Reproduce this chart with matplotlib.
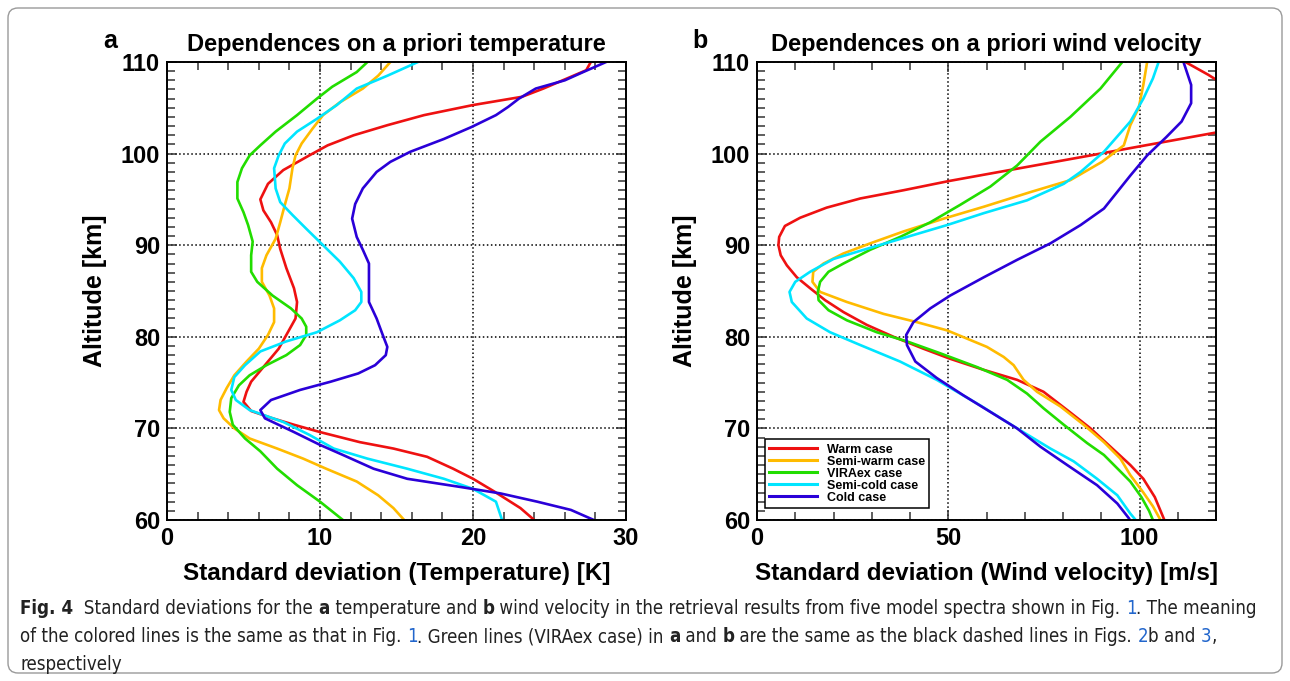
import matplotlib
matplotlib.use("Agg")
import matplotlib.pyplot as plt
from matplotlib.ticker import MultipleLocator
from matplotlib.patches import FancyBboxPatch
from matplotlib.transforms import IdentityTransform
from matplotlib import font_manager

W, H = 1290, 681
plt.rcParams['font.family'] = ['Liberation Sans', 'DejaVu Sans']

case_names = ['Warm case', 'Semi-warm case', 'VIRAex case', 'Semi-cold case', 'Cold case']
case_colors = ['#ee1111', '#ffbb00', '#22dd00', '#00e5ff', '#2a00d8']

# --- (a) standard deviation of temperature [K] vs altitude [km]
temp_warm_sd = [27.7, 27.4, 24.6, 23.2, 20.0, 16.8, 14.4, 12.2, 10.5, 9.3, 7.6, 6.6, 6.1, 6.3, 6.8,
                7.2, 7.4, 7.8, 8.3, 8.5, 8.4, 7.8, 7.3, 6.4, 5.5, 5.2, 5.0, 5.5, 6.9, 8.3, 10.0,
                12.6, 14.8, 17.0, 18.7, 20.0, 21.4, 23.1, 24.0]
temp_warm_alt = [110, 109.1, 107.1, 106.2, 105.3, 104.2, 103.1, 102.0, 100.9, 99.8, 98.2, 96.7, 95.0,
                 93.8, 92.5, 91.1, 89.6, 87.5, 85.3, 83.8, 82.0, 80.2, 78.7, 76.9, 75.1, 74.0, 72.9,
                 71.9, 71.1, 70.4, 69.6, 68.5, 67.8, 66.9, 65.6, 64.5, 63.1, 61.3, 60.0]

temp_semiwarm_sd = [14.6, 13.8, 12.8, 11.3, 10.2, 9.5, 8.8, 8.4, 8.2, 8.0, 7.7, 7.4, 7.1, 6.5, 6.2,
                    6.2, 6.7, 7.0, 7.0, 6.6, 6.0, 5.2, 4.4, 3.9, 3.5, 3.4, 3.7, 4.4, 5.4, 7.2, 8.9,
                    10.4, 12.4, 13.8, 14.8, 15.5]
temp_semiwarm_alt = [110, 108.5, 107.1, 105.6, 104.2, 102.7, 101.1, 99.8, 98.4, 96.2, 94.4, 92.5, 90.7,
                     88.9, 87.5, 86.0, 84.5, 83.1, 81.6, 80.2, 78.7, 77.3, 75.8, 74.4, 73.1, 72.0,
                     71.1, 70.0, 68.9, 67.8, 66.7, 65.6, 64.2, 62.7, 61.3, 60.0]

temp_viraex_sd = [13.1, 12.4, 10.8, 9.8, 8.5, 7.1, 6.1, 5.4, 4.9, 4.6, 4.6, 5.0, 5.3, 5.6, 5.5, 5.5,
                  5.9, 6.9, 8.1, 8.8, 9.1, 9.1, 8.7, 7.8, 6.5, 5.4, 4.7, 4.2, 4.1, 4.3, 5.1, 6.1,
                  7.2, 8.5, 10.0, 11.5]
temp_viraex_alt = [110, 108.9, 107.3, 106.0, 104.2, 102.4, 100.9, 99.8, 98.4, 96.9, 95.1, 93.6, 92.2,
                   90.4, 88.9, 87.1, 86.0, 84.5, 83.1, 82.0, 81.1, 80.2, 79.1, 78.0, 76.9, 75.8,
                   74.7, 73.3, 71.8, 70.4, 68.9, 67.5, 65.6, 63.8, 62.0, 60.0]

temp_semicold_sd = [16.4, 14.4, 12.4, 11.1, 9.8, 8.5, 7.7, 7.3, 7.0, 7.1, 7.4, 8.2, 9.1, 10.2, 11.3,
                    12.2, 12.7, 12.7, 12.3, 11.3, 9.8, 7.8, 6.1, 5.1, 4.4, 4.2, 4.5, 5.4, 7.6, 9.3,
                    10.9, 13.1, 15.7, 18.1, 20.0, 21.5, 21.9]
temp_semicold_alt = [110, 108.5, 107.1, 105.3, 103.8, 102.4, 101.1, 99.8, 98.4, 96.2, 94.7, 93.3, 91.8,
                     90.0, 88.2, 86.4, 84.9, 83.8, 82.9, 81.8, 80.5, 79.5, 78.4, 76.9, 75.6, 74.2,
                     73.1, 72.0, 70.7, 69.3, 67.8, 66.7, 65.6, 64.5, 63.4, 62.0, 60.0]

temp_cold_sd = [28.7, 27.2, 26.0, 24.1, 23.0, 22.3, 21.5, 19.9, 18.1, 15.9, 14.6, 13.7, 12.8, 12.3,
                12.1, 12.4, 12.8, 13.2, 13.2, 13.2, 13.7, 14.1, 14.4, 14.3, 13.6, 12.5, 10.7, 8.7,
                6.8, 6.1, 6.4, 8.3, 10.0, 11.5, 13.5, 15.7, 19.2, 21.8, 24.2, 26.4, 27.9]
temp_cold_alt = [110, 108.9, 108.0, 107.1, 106.0, 105.1, 104.2, 102.9, 101.6, 100.2, 99.1, 98.0, 96.2,
                 94.5, 92.9, 90.9, 89.5, 88.0, 86.0, 83.8, 82.0, 80.2, 78.9, 78.0, 76.9, 76.0, 75.1,
                 74.2, 73.1, 72.0, 71.1, 69.6, 68.2, 67.1, 65.6, 64.5, 63.6, 62.9, 62.0, 61.1, 60.0]

# --- (b) standard deviation of wind velocity [m/s] vs altitude [km]
wind_warm_sd = [112, 118, 126, 131, 126, 120, 97.6, 92.4, 87.2, 50.1, 38.3, 27.0, 18.2, 11.3, 7.3, 5.8,
                5.6, 6.2, 7.8, 10.4, 13.9, 17.8, 22.6, 28.7, 35.7, 43.5, 50.5, 59.2, 68.0, 74.9,
                81.1, 87.2, 92.4, 97.6, 101.0, 104.0, 106.5]
wind_warm_alt = [110, 108.6, 106.5, 105.0, 103.2, 102.3, 100.6, 100.2, 99.8, 97.0, 96.0, 95.1, 94.1,
                 93.0, 92.1, 90.9, 90.0, 88.9, 87.8, 86.5, 85.3, 84.0, 82.7, 81.3, 80.0, 78.7, 77.6,
                 76.4, 75.3, 74.0, 72.0, 70.0, 68.0, 66.0, 64.5, 62.5, 60.0]

wind_semiwarm_sd = [102.0, 101.0, 99.8, 97.6, 95.9, 90.2, 81.9, 71.5, 59.3, 48.8, 38.3, 29.6, 22.6,
                    17.4, 14.7, 14.5, 16.5, 23.5, 33.1, 41.8, 49.7, 54.9, 60.1, 64.5, 67.1, 69.7,
                    73.2, 79.3, 85.4, 90.7, 95.0, 97.6, 101.0, 103.5, 105.5]
wind_semiwarm_alt = [110, 107.5, 105.0, 103.1, 100.9, 99.1, 97.1, 95.8, 94.2, 92.9, 91.5, 90.2, 89.1,
                     88.0, 87.1, 86.0, 84.9, 83.8, 82.5, 81.6, 80.7, 79.8, 78.9, 77.8, 76.9, 75.3,
                     74.0, 72.4, 70.4, 68.5, 66.7, 64.9, 63.0, 61.5, 60.0]

wind_viraex_sd = [95.5, 89.8, 81.9, 74.1, 68.0, 61.0, 53.1, 45.3, 37.4, 29.6, 22.6, 18.7, 16.5, 15.9,
                  16.1, 18.7, 23.5, 31.3, 39.2, 47.9, 57.5, 65.4, 70.6, 74.9, 80.2, 86.3, 90.7,
                  95.0, 97.6, 100.5, 102.5, 103.5]
wind_viraex_alt = [110, 107.1, 104.0, 101.3, 98.7, 96.4, 94.4, 92.5, 90.9, 89.5, 88.0, 87.1, 86.0,
                   84.9, 84.0, 82.9, 81.8, 80.5, 79.5, 78.2, 76.7, 75.3, 73.8, 72.2, 70.4, 68.4,
                   67.1, 65.3, 64.2, 62.5, 61.0, 60.0]

wind_semicold_sd = [105.0, 103.5, 101.0, 97.6, 90.7, 84.6, 80.2, 70.6, 59.3, 49.7, 39.2, 28.7, 20.0,
                    13.9, 10.0, 8.5, 9.1, 13.0, 19.1, 27.0, 37.4, 47.0, 58.4, 68.0, 76.7, 82.8,
                    88.9, 94.2, 97.6, 99.0]
wind_semicold_alt = [110, 108.2, 106.0, 103.5, 100.2, 98.0, 96.7, 94.9, 93.5, 92.2, 90.9, 89.6, 88.5,
                     87.1, 86.0, 84.9, 83.8, 82.0, 80.5, 79.1, 77.3, 75.3, 72.5, 70.0, 67.8, 66.4,
                     64.5, 62.7, 60.7, 60.0]

wind_cold_sd = [111.5, 113.5, 113.5, 111.0, 107.0, 102.0, 97.6, 90.7, 84.6, 76.7, 68.0, 59.3, 50.5,
                45.3, 40.9, 39.0, 39.2, 41.4, 47.0, 54.0, 61.0, 68.0, 74.1, 81.1, 88.9, 94.2,
                97.2, 97.5]
wind_cold_alt = [110, 107.5, 105.5, 103.5, 101.8, 99.8, 97.6, 94.0, 92.2, 90.2, 88.4, 86.5, 84.5,
                 83.1, 81.6, 80.2, 79.1, 77.3, 75.5, 73.6, 71.8, 70.0, 68.0, 66.0, 63.8, 61.8,
                 60.2, 60.0]

temp_series = [(temp_warm_sd, temp_warm_alt), (temp_semiwarm_sd, temp_semiwarm_alt),
               (temp_viraex_sd, temp_viraex_alt), (temp_semicold_sd, temp_semicold_alt),
               (temp_cold_sd, temp_cold_alt)]
wind_series = [(wind_warm_sd, wind_warm_alt), (wind_semiwarm_sd, wind_semiwarm_alt),
               (wind_viraex_sd, wind_viraex_alt), (wind_semicold_sd, wind_semicold_alt),
               (wind_cold_sd, wind_cold_alt)]

fig = plt.figure(figsize=(W / 100, H / 100), dpi=100)
ax_a = fig.add_axes([167 / W, 1 - 520 / H, 459 / W, 458 / H])
ax_b = fig.add_axes([757 / W, 1 - 520 / H, 459 / W, 458 / H])


def style_axis(ax, xmax, xmajor, xminor, xlabel, title, letter):
    ax.set_xlim(0, xmax)
    ax.set_ylim(60, 110)
    ax.xaxis.set_major_locator(MultipleLocator(xmajor))
    ax.xaxis.set_minor_locator(MultipleLocator(xminor))
    ax.yaxis.set_major_locator(MultipleLocator(10))
    ax.yaxis.set_minor_locator(MultipleLocator(1))
    ax.tick_params(which='both', direction='in', top=True, right=True, width=1.1, color='#333333')
    ax.tick_params(which='major', length=7, pad=5, labelsize=17)
    ax.tick_params(which='minor', length=6)
    for lab in ax.get_xticklabels() + ax.get_yticklabels():
        lab.set_fontweight('bold')
    for sp in ax.spines.values():
        sp.set_linewidth(1.4)
    ax.grid(which='major', linestyle=':', color='black', linewidth=1.1)
    ax.set_xlabel(xlabel, fontsize=17.5, fontweight='bold', labelpad=9)
    ax.set_ylabel('Altitude [km]', fontsize=18, fontweight='bold', labelpad=10)
    ax.set_title(title, fontsize=17, fontweight='bold', pad=8)
    pos = ax.get_position()
    fig.text(pos.x0 - 57 / W, 1 - 41 / H, letter, fontsize=18, fontweight='bold',
             ha='center', va='center')


for (sd, alt), c, name in zip(temp_series, case_colors, case_names):
    ax_a.plot(sd, alt, color=c, lw=1.9, label=name)
for (sd, alt), c, name in zip(wind_series, case_colors, case_names):
    ax_b.plot(sd, alt, color=c, lw=1.9, label=name)

style_axis(ax_a, 30, 10, 2, 'Standard deviation (Temperature) [K]',
           'Dependences on a priori temperature', 'a')
style_axis(ax_b, 120, 50, 10, 'Standard deviation (Wind velocity) [m/s]',
           'Dependences on a priori wind velocity', 'b')

leg = ax_b.legend(loc='lower left', bbox_to_anchor=(765 / W, 1 - 508 / H),
                  bbox_transform=fig.transFigure, borderaxespad=0, fancybox=False,
                  prop={'weight': 'bold', 'size': 9}, handlelength=3.8,
                  labelspacing=0.0, borderpad=0.35, handletextpad=0.8, framealpha=1)
leg.get_frame().set_edgecolor('black')
leg.get_frame().set_linewidth(1.1)
for h in leg.get_lines():
    h.set_linewidth(2.2)

# caption box with rounded corners, drawn in pixel space
frame = FancyBboxPatch((8, 8), W - 16, H - 16, boxstyle='round,pad=0,rounding_size=10',
                       transform=IdentityTransform(), fill=False, edgecolor='#9a9a9a', lw=1.0)
fig.patches.append(frame)

names = {f.name for f in font_manager.fontManager.ttflist}
cap_family = 'Liberation Sans Narrow' if 'Liberation Sans Narrow' in names else 'DejaVu Sans'
cap_stretch = 'normal' if cap_family == 'Liberation Sans Narrow' else 'condensed'
link = '#2266cc'
ink = '#222222'

caption = [
    [('Fig. 4', 'bold', ink), ('  Standard deviations for the ', 'normal', ink), ('a', 'bold', ink),
     (' temperature and ', 'normal', ink), ('b', 'bold', ink),
     (' wind velocity in the retrieval results from five model spectra shown in Fig. ', 'normal', ink),
     ('1', 'normal', link), ('. The meaning', 'normal', ink)],
    [('of the colored lines is the same as that in Fig. ', 'normal', ink), ('1', 'normal', link),
     ('. Green lines (VIRAex case) in ', 'normal', ink), ('a', 'bold', ink), (' and ', 'normal', ink),
     ('b', 'bold', ink), (' are the same as the black dashed lines in Figs. ', 'normal', ink),
     ('2', 'normal', link), ('b and ', 'normal', ink), ('3', 'normal', link), (',', 'normal', ink)],
    [('respectively', 'normal', ink)],
]
cap_y = [609, 637, 664]

renderer = fig.canvas.get_renderer()


def run_width(s, weight, size):
    t1 = fig.text(0, 0, 'I' + s + 'I', fontsize=size, fontweight=weight, family=cap_family,
                  stretch=cap_stretch)
    t2 = fig.text(0, 0, 'II', fontsize=size, fontweight=weight, family=cap_family,
                  stretch=cap_stretch)
    w = t1.get_window_extent(renderer).width - t2.get_window_extent(renderer).width
    t1.remove()
    t2.remove()
    return w


# size the caption so the first line fills the box
base = 10
w0 = sum(run_width(s, wt, base) for s, wt, _ in caption[0])
cap_size = base * (1262 - 20) / w0

for line, yy in zip(caption, cap_y):
    x = 20
    for s, wt, col in line:
        fig.text(x / W, 1 - yy / H, s, fontsize=cap_size, fontweight=wt, color=col,
                 family=cap_family, stretch=cap_stretch, va='center', ha='left')
        x += run_width(s, wt, cap_size)

fig.savefig('out.png', dpi=100)
